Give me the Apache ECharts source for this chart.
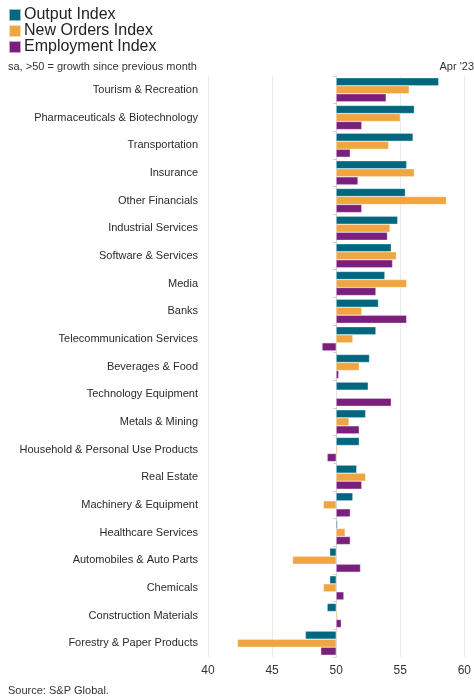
<!DOCTYPE html>
<html>
<head>
<meta charset="utf-8">
<script src="https://cdn.jsdelivr.net/npm/echarts@6/dist/echarts.min.js"></script>
<style>
  html, body { margin: 0; padding: 0; background: #fff; }
  #chart { width: 474px; height: 698px; }
</style>
</head>
<body>
<div id="chart"></div>
<script>
// sectors, top to bottom
var sectors = [
  "Tourism & Recreation", "Pharmaceuticals & Biotechnology", "Transportation",
  "Insurance", "Other Financials", "Industrial Services", "Software & Services",
  "Media", "Banks", "Telecommunication Services", "Beverages & Food",
  "Technology Equipment", "Metals & Mining", "Household & Personal Use Products",
  "Real Estate", "Machinery & Equipment", "Healthcare Services",
  "Automobiles & Auto Parts", "Chemicals", "Construction Materials",
  "Forestry & Paper Products"
];
var outputIndex = [58.0, 56.1, 56.0, 55.5, 55.4, 54.8, 54.3, 53.8, 53.3, 53.1, 52.6,
                   52.5, 52.3, 51.8, 51.6, 51.3, 50.1, 49.5, 49.5, 49.3, 47.6];
var newOrdersIndex = [55.7, 55.0, 54.1, 56.1, 58.6, 54.2, 54.7, 55.5, 52.0, 51.3, 51.8,
                      50.0, 51.0, 50.1, 52.3, 49.0, 50.7, 46.6, 49.0, 50.1, 42.3];
var employmentIndex = [53.9, 52.0, 51.1, 51.7, 52.0, 54.0, 54.4, 53.1, 55.5, 48.9, 50.2,
                       54.3, 51.8, 49.3, 52.0, 51.1, 51.1, 51.9, 50.6, 50.4, 48.8];
var baseLine = 50; // bars grow from the 50 mark

var myChart = echarts.init(document.getElementById("chart"));
var font = "Liberation Sans";

function fromBase(arr) {
  return arr.map(function (v) { return +(v - baseLine).toFixed(2); });
}

function barSeries(name, arr, color) {
  return {
    name: name,
    type: "bar",
    data: fromBase(arr),
    barGap: "0%",
    barCategoryGap: "13%",
    itemStyle: { color: color, borderColor: "rgba(255,255,255,0.6)", borderWidth: 0.5 },
  };
}

myChart.setOption({
  animation: false,
  textStyle: { fontFamily: font },
  color: ["#00677f", "#f0a543", "#7a1f7d"],
  legend: {
    orient: "vertical",
    left: 8,
    top: 7,
    padding: 0,
    itemWidth: 12,
    itemHeight: 12,
    itemGap: 0,
    icon: "rect",
    textStyle: { fontSize: 16, lineHeight: 16, color: "#222", fontFamily: font, padding: [0, 0, 0, -2] },
    data: ["Output Index", "New Orders Index", "Employment Index"],
  },
  graphic: [
    { type: "text", left: 8, top: 61,
      style: { text: "sa, >50 = growth since previous month", fontSize: 11, fill: "#333", fontFamily: font } },
    { type: "text", right: 0, top: 61,
      style: { text: "Apr '23", fontSize: 11, fill: "#333", fontFamily: font } },
    { type: "text", left: 8, bottom: 2,
      style: { text: "Source: S&P Global.", fontSize: 11, fill: "#333", fontFamily: font } },
  ],
  grid: { left: 208, right: 4, top: 76, bottom: 41 },
  xAxis: {
    type: "value",
    min: -10,
    max: 10,
    interval: 5,
    axisLine: { show: false },
    axisTick: { show: false },
    splitLine: { lineStyle: { color: "#eaeaea", width: 1 } },
    axisLabel: {
      fontSize: 12, color: "#333", margin: 8,
      formatter: function (v) { return v + baseLine; },
    },
  },
  yAxis: [
    {
      type: "category",
      inverse: true,
      data: sectors,
      axisLine: { show: false, onZero: false },
      axisTick: { show: false },
      axisLabel: { fontSize: 11, color: "#2a2a2a", margin: 10 },
    },
    {
      type: "category",
      inverse: true,
      position: "left",
      data: sectors,
      axisLine: { show: true, onZero: true, lineStyle: { color: "#d6d6d6", width: 1 } },
      axisTick: { show: true, length: 3, lineStyle: { color: "#cfcfcf" } },
      axisLabel: { show: false },
    },
  ],
  series: [
    barSeries("Output Index", outputIndex, "#00677f"),
    barSeries("New Orders Index", newOrdersIndex, "#f0a543"),
    barSeries("Employment Index", employmentIndex, "#7a1f7d"),
  ],
});
</script>
</body>
</html>
